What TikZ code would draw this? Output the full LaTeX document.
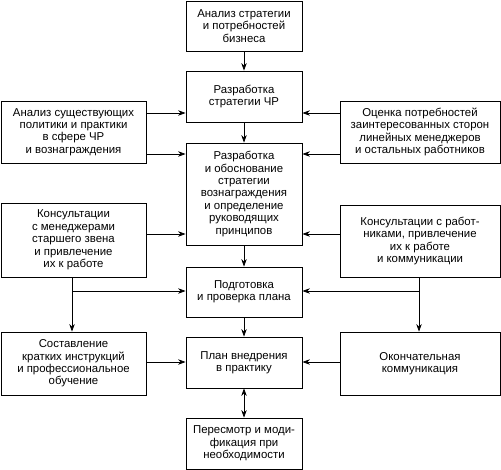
\documentclass[tikz,border=0pt]{standalone}
\usepackage{fontspec}
\setmainfont{Liberation Sans}
\usetikzlibrary{arrows.meta}
\begin{document}
\begin{tikzpicture}[x=1bp,y=-1bp,
  box/.style={draw,line width=0.8bp,align=center,inner sep=0pt,
    font=\fontsize{11.4bp}{12.4bp}\selectfont},
  arr/.style={line width=0.8bp,-{Stealth[length=7.5bp,width=5.5bp]}},
  darr/.style={line width=0.8bp,{Stealth[length=7.5bp,width=5.5bp]}-{Stealth[length=7.5bp,width=5.5bp]}}]
\useasboundingbox (0,0) rectangle (501,470);
% centre column
\node[box,minimum width=116bp,minimum height=50bp] (A) at (244,26) {Анализ стратегии\\и потребностей\\бизнеса};
\node[box,minimum width=116bp,minimum height=51bp] (B) at (244,96.5) {Разработка\\стратегии ЧР};
\node[box,minimum width=116bp,minimum height=102bp] (C) at (244,194) {Разработка\\и обоснование\\стратегии\\вознаграждения\\и определение\\руководящих\\принципов};
\node[box,minimum width=116bp,minimum height=50bp] (D) at (244,292) {Подготовка\\и проверка плана};
\node[box,minimum width=116bp,minimum height=51bp] (E) at (244,362.5) {План внедрения\\в практику};
\node[box,minimum width=116bp,minimum height=51bp] (F) at (244,443.5) {Пересмотр и моди-\\фикация при\\необходимости};
% left column
\node[box,minimum width=145bp,minimum height=62bp] (L1) at (73.5,132) {Анализ существующих\\политики и практики\\в сфере ЧР\\и вознаграждения};
\node[box,minimum width=145bp,minimum height=74bp] (L2) at (73.5,240) {Консультации\\с менеджерами\\старшего звена\\и привлечение\\их к работе};
\node[box,minimum width=145bp,minimum height=63bp] (L3) at (73.5,363.5) {Составление\\кратких инструкций\\и профессиональное\\обучение};
% right column
\node[box,minimum width=160bp,minimum height=62bp] (R1) at (420,132) {Оценка потребностей\\заинтересованных сторон\\линейных менеджеров\\и остальных работников};
\node[box,minimum width=160bp,minimum height=72bp] (R2) at (420,241) {Консультации с работ-\\никами, привлечение\\их к работе\\и коммуникации};
\node[box,minimum width=160bp,minimum height=63bp] (R3) at (420,363.5) {Окончательная\\коммуникация};
% helper levels
\coordinate (y1) at (0,113);
\coordinate (y2) at (0,154);
\coordinate (y3) at (0,234);
\coordinate (y4) at (0,291);
\coordinate (y5) at (0,362);
\coordinate (xl) at (72,0);
\coordinate (xr) at (419,0);
% vertical chain
\draw[arr] (A) -- (B);
\draw[arr] (B) -- (C);
\draw[arr] (C) -- (D);
\draw[arr] (D) -- (E);
\draw[darr] (E) -- (F);
% side inputs
\draw[arr] (L1.east |- y1) -- (B.west |- y1);
\draw[arr] (L1.east |- y2) -- (C.west |- y2);
\draw[arr] (R1.west |- y1) -- (B.east |- y1);
\draw[arr] (R1.west |- y2) -- (C.east |- y2);
\draw[arr] (L2.east |- y3) -- (C.west |- y3);
\draw[arr] (R2.west |- y3) -- (C.east |- y3);
\draw[arr] (L2.south -| xl) -- (L3.north -| xl);
\draw[arr] (xl |- y4) -- (D.west |- y4);
\draw[arr] (R2.south -| xr) -- (R3.north -| xr);
\draw[arr] (xr |- y4) -- (D.east |- y4);
\draw[arr] (L3.east |- y5) -- (E.west |- y5);
\draw[arr] (R3.west |- y5) -- (E.east |- y5);
\end{tikzpicture}
\end{document}
